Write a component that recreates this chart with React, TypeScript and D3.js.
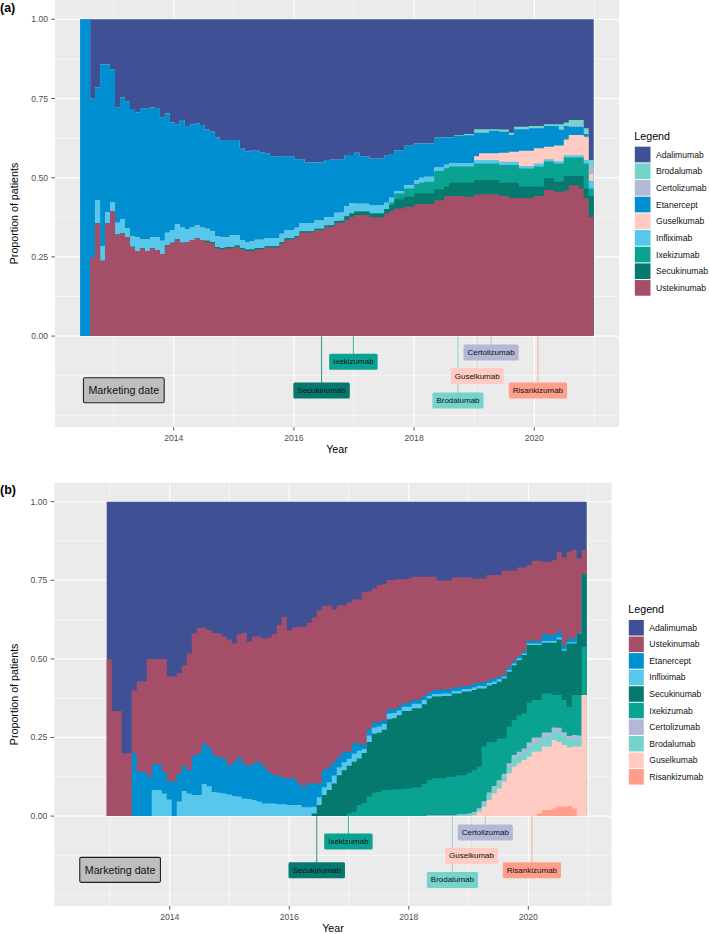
import React from "react";
import * as d3 from "d3";

const FONT = "'Liberation Sans', Arial, Helvetica, sans-serif";

const COLORS: Record<string, string> = {
  Adalimumab: "#3F5194",
  Ustekinumab: "#A54E67",
  Etanercept: "#008FD0",
  Infliximab: "#58C7EC",
  Secukinumab: "#06796F",
  Ixekizumab: "#0AA392",
  Certolizumab: "#B3B8D8",
  Brodalumab: "#74D3CA",
  Guselkumab: "#FFCBC2",
  Risankizumab: "#FF9F89",
};

// ---------- panel (a): monthly proportions, Jun 2012 - Dec 2020 ----------
const startA = 2012.443;
const endA = 2020.988;
const ustA = [
  0, 0, .248, .356, .238, .356, .395, .321, .324, .312,
  .282, .269, .277, .269, .277, .272, .259, .287, .295, .306,
  .295, .297, .303, .309, .303, .297, .293, .277, .274, .277,
  .277, .282, .274, .269, .269, .274, .274, .28, .28, .28,
  .293, .305, .305, .312, .327, .327, .327, .335, .335, .345,
  .345, .358, .358, .368, .377, .382, .382, .382, .375, .375,
  .375, .387, .396, .403, .403, .408, .408, .417, .417, .417,
  .417, .429, .429, .442, .442, .442, .442, .44, .44, .448,
  .448, .448, .448, .448, .442, .442, .436, .436, .436, .436,
  .436, .442, .442, .461, .461, .456, .456, .46, .476, .476,
  .466, .435, .377,
];
const secA = [
  0, 0, 0, 0, 0, 0, 0, 0, 0, 0,
  0, 0, 0, 0, 0, 0, 0, 0, 0, 0,
  0, 0, 0, 0, 0, .004, .004, .004, .004, .004,
  .004, .004, .004, .004, .004, .004, .004, .004, .004, .004,
  .004, .004, .004, .004, .004, .004, .004, .004, .004, .004,
  .005, .005, .006, .01, .01, .011, .011, .011, .012, .012,
  .012, .014, .018, .029, .029, .032, .032, .033, .033, .033,
  .033, .034, .034, .03, .042, .042, .042, .044, .044, .045,
  .045, .045, .045, .045, .042, .042, .048, .048, .036, .036,
  .036, .03, .03, .037, .037, .031, .031, .045, .029, .029,
  .039, .031, .065,
];
const ixeA = [
  0, 0, 0, 0, 0, 0, 0, 0, 0, 0,
  0, 0, 0, 0, 0, 0, 0, 0, 0, 0,
  0, 0, 0, 0, 0, 0, 0, 0, 0, 0,
  0, 0, 0, 0, 0, 0, 0, 0, 0, 0,
  0, 0, 0, 0, 0, 0, 0, 0, 0, 0,
  0, 0, 0, 0, 0, 0, 0, 0, 0, 0,
  0, 0, .008, .018, .018, .026, .026, .03, .034, .037,
  .037, .058, .058, .058, .051, .051, .051, .051, .051, .052,
  .052, .052, .052, .052, .056, .056, .056, .056, .057, .057,
  .057, .063, .063, .053, .053, .058, .058, .059, .059, .059,
  .059, .079, .024,
];
const infA = [
  0, 0, 0, .072, .046, .036, .027, .037, .045, .028,
  .034, .043, .028, .036, .035, .04, .042, .039, .04, .048,
  .048, .04, .04, .04, .04, .038, .034, .035, .034, .031,
  .037, .032, .025, .024, .026, .026, .026, .026, .026, .026,
  .026, .026, .026, .026, .026, .026, .026, .026, .026, .026,
  .026, .026, .026, .033, .033, .025, .025, .025, .025, .025,
  .025, .02, .015, .008, .008, .01, .01, .012, .016, .016,
  .016, .011, .011, .011, .01, .01, .01, .01, .01, .011,
  .011, .011, .011, .011, .01, .01, .01, .01, .008, .008,
  .008, .01, .01, .007, .007, .007, .007, .007, .007, .007,
  .007, .011, .024,
];
const gusA = [
  0, 0, 0, 0, 0, 0, 0, 0, 0, 0,
  0, 0, 0, 0, 0, 0, 0, 0, 0, 0,
  0, 0, 0, 0, 0, 0, 0, 0, 0, 0,
  0, 0, 0, 0, 0, 0, 0, 0, 0, 0,
  0, 0, 0, 0, 0, 0, 0, 0, 0, 0,
  0, 0, 0, 0, 0, 0, 0, 0, 0, 0,
  0, 0, 0, 0, 0, 0, 0, 0, 0, 0,
  0, 0, 0, 0, 0, 0, 0, 0, 0, .012,
  .021, .021, .021, .021, .029, .029, .032, .032, .048, .048,
  .048, .048, .048, .04, .04, .05, .05, .05, .064, .064,
  .064, .073, .022,
];
const etaA = [
  1, 1, .501, .357, .573, .465, .42, .363, .384, .40,
  .401, .394, .413, .413, .41, .408, .39, .377, .339, .315,
  .339, .326, .325, .323, .323, .312, .314, .311, .307, .307,
  .301, .301, .29, .286, .286, .281, .276, .267, .258, .256,
  .243, .231, .231, .216, .201, .191, .191, .183, .183, .181,
  .181, .168, .168, .161, .152, .161, .15, .15, .148, .148,
  .148, .148, .138, .129, .129, .125, .125, .116, .108, .105,
  .105, .095, .095, .086, .082, .087, .087, .089, .089, .074,
  .065, .065, .071, .071, .066, .066, .053, .071, .068, .068,
  .071, .063, .063, .065, .065, .061, .049, .042, .026, .026,
  .026, .009, 0,
];
const cerA = [
  0, 0, 0, 0, 0, 0, 0, 0, 0, 0,
  0, 0, 0, 0, 0, 0, 0, 0, 0, 0,
  0, 0, 0, 0, 0, 0, 0, 0, 0, 0,
  0, 0, 0, 0, 0, 0, 0, 0, 0, 0,
  0, 0, 0, 0, 0, 0, 0, 0, 0, 0,
  0, 0, 0, 0, 0, 0, 0, 0, 0, 0,
  0, 0, 0, 0, 0, 0, 0, 0, 0, 0,
  0, 0, 0, 0, 0, 0, 0, 0, 0, 0,
  0, 0, 0, 0, 0, 0, 0, 0, 0, 0,
  0, 0, 0, 0, 0, 0, 0, 0, .003, .003,
  .003, .005, .023,
];
const broA = [
  0, 0, 0, 0, 0, 0, 0, 0, 0, 0,
  0, 0, 0, 0, 0, 0, 0, 0, 0, 0,
  0, 0, 0, 0, 0, 0, 0, 0, 0, 0,
  0, 0, 0, 0, 0, 0, 0, 0, 0, 0,
  0, 0, 0, 0, 0, 0, 0, 0, 0, 0,
  0, 0, 0, 0, 0, 0, 0, 0, 0, 0,
  0, 0, 0, 0, 0, 0, 0, 0, 0, 0,
  0, 0, 0, 0, 0, .002, .002, .004, .004, .011,
  .011, .011, .005, .005, .007, .007, .007, .008, .008, .008,
  .007, .007, .007, .006, .006, .006, .018, .011, .018, .018,
  .018, .013, .021,
];
const legendA = [
  "Adalimumab", "Brodalumab", "Certolizumab", "Etanercept", "Guselkumab",
  "Infliximab", "Ixekizumab", "Secukinumab", "Ustekinumab",
];

// ---------- panel (b): monthly proportions, Jan 2013 - Dec 2020 ----------
const startB = 2012.946;
const endB = 2020.977;
const ustB = [
  .5, .334, .334, .2, .2, .2, .287, .287, .375, .335,
  .335, .359, .334, .334, .318, .321, .371, .389, .399, .368,
  .375, .389, .394, .388, .4, .378, .391, .415, .396, .403,
  .398, .408, .428, .449, .478, .514, .47, .48, .498, .509,
  .511, .528, .551, .522, .516, .484, .481, .465, .474, .458,
  .458, .487, .438, .427, .436, .433, .412, .411, .405, .393,
  .396, .392, .392, .379, .369, .36, .348, .346, .346, .35,
  .35, .345, .345, .336, .331, .331, .334, .329, .324, .331,
  .305, .289, .282, .268, .24, .254, .254, .23, .233, .238,
  .255, .279, .276, .281, .237, .077,
];
const etaB = [
  0, 0, 0, 0, 0, .2, .141, .141, .125, .082,
  .082, .069, .058, .111, .09, .079, .074, .125, .133, .129,
  .122, .117, .113, .111, .093, .107, .125, .112, .105, .117,
  .127, .117, .1, .09, .092, .082, .085, .085, .069, .065,
  .076, .074, .044, .054, .047, .044, .034, .034, .023, .033,
  .023, .013, .02, .015, .014, .012, .013, .012, .012, .012,
  .012, .012, .012, .013, .01, .013, .013, .013, .013, .011,
  .011, .01, .01, .011, .011, .011, .01, .01, .008, .006,
  .01, .006, .007, .006, .009, .009, .009, .022, .019, .019,
  .018, .013, .012, .012, .004, 0,
];
const infB = [
  0, 0, 0, 0, 0, 0, 0, 0, 0, .083,
  .083, .072, .053, 0, .046, .08, .072, .067, .067, .102,
  .095, .077, .074, .072, .069, .064, .062, .056, .054, .051,
  .046, .04, .04, .04, .038, .038, .035, .035, .035, .028,
  .028, .022, .025, .025, .025, .025, .025, .025, .022, .025,
  .025, .012, .02, .02, .02, .018, .018, .017, .015, .014,
  .014, .014, .014, .013, .008, .008, .008, .008, .008, .008,
  .008, .008, .008, .008, .008, .008, .008, .008, .008, .005,
  .006, .005, .006, .005, .005, .005, .005, .006, .006, .006,
  .006, .005, .004, .004, 0, 0,
];
const secB = [
  0, 0, 0, 0, 0, 0, 0, 0, 0, 0,
  0, 0, 0, 0, 0, 0, 0, 0, 0, 0,
  0, 0, 0, 0, 0, 0, 0, 0, 0, 0,
  0, 0, 0, 0, 0, 0, 0, 0, 0, 0,
  0, .008, .035, .067, .083, .104, .13, .146, .152, .159,
  .148, .159, .174, .188, .188, .192, .225, .226, .236, .246,
  .246, .252, .252, .254, .259, .26, .26, .262, .257, .265,
  .26, .266, .258, .255, .249, .185, .179, .184, .18, .191,
  .175, .175, .175, .185, .183, .175, .175, .161, .161, .166,
  .177, .157, .201, .164, .194, .23,
];
const ixeB = [
  0, 0, 0, 0, 0, 0, 0, 0, 0, 0,
  0, 0, 0, 0, 0, 0, 0, 0, 0, 0,
  0, 0, 0, 0, 0, 0, 0, 0, 0, 0,
  0, 0, 0, 0, 0, 0, 0, 0, 0, 0,
  0, 0, 0, 0, 0, 0, 0, 0, .008, .014,
  .035, .042, .062, .074, .077, .083, .083, .085, .085, .088,
  .088, .091, .091, .102, .112, .117, .117, .117, .122, .122,
  .124, .124, .13, .133, .132, .174, .161, .14, .133, .112,
  .116, .111, .116, .112, .127, .119, .119, .124, .124, .103,
  .104, .102, .093, .127, .129, .154,
];
const cerB = [
  0, 0, 0, 0, 0, 0, 0, 0, 0, 0,
  0, 0, 0, 0, 0, 0, 0, 0, 0, 0,
  0, 0, 0, 0, 0, 0, 0, 0, 0, 0,
  0, 0, 0, 0, 0, 0, 0, 0, 0, 0,
  0, 0, 0, 0, 0, 0, 0, 0, 0, 0,
  0, 0, 0, 0, 0, 0, 0, 0, 0, 0,
  0, 0, 0, 0, .003, .003, .003, .003, .003, .003,
  .003, .003, .004, .005, .006, .007, .008, .008, .008, .01,
  .012, .012, .012, .012, .015, .015, .015, .015, .015, .012,
  .015, .013, .012, .012, .01, 0,
];
const broB = [
  0, 0, 0, 0, 0, 0, 0, 0, 0, 0,
  0, 0, 0, 0, 0, 0, 0, 0, 0, 0,
  0, 0, 0, 0, 0, 0, 0, 0, 0, 0,
  0, 0, 0, 0, 0, 0, 0, 0, 0, 0,
  0, 0, 0, 0, 0, 0, 0, 0, 0, 0,
  0, 0, 0, 0, 0, 0, 0, 0, 0, 0,
  0, 0, 0, 0, 0, 0, 0, 0, 0, 0,
  .003, .003, .004, .005, .005, .01, .016, .016, .018, .016,
  .02, .025, .025, .025, .03, .03, .03, .03, .03, .028,
  .03, .028, .025, .025, .025, 0,
];
const gusB = [
  0, 0, 0, 0, 0, 0, 0, 0, 0, 0,
  0, 0, 0, 0, 0, 0, 0, 0, 0, 0,
  0, 0, 0, 0, 0, 0, 0, 0, 0, 0,
  0, 0, 0, 0, 0, 0, 0, 0, 0, 0,
  0, 0, 0, 0, 0, 0, 0, 0, 0, 0,
  0, 0, 0, 0, 0, 0, 0, 0, 0, 0,
  0, 0, 0, 0, 0, 0, 0, 0, 0, 0,
  0, 0, 0, .003, .014, .03, .051, .072, .088, .109,
  .136, .157, .168, .178, .189, .205, .197, .202, .202, .218,
  .206, .196, .186, .197, .221, .385,
];
const risB = [
  0, 0, 0, 0, 0, 0, 0, 0, 0, 0,
  0, 0, 0, 0, 0, 0, 0, 0, 0, 0,
  0, 0, 0, 0, 0, 0, 0, 0, 0, 0,
  0, 0, 0, 0, 0, 0, 0, 0, 0, 0,
  0, 0, 0, 0, 0, 0, 0, 0, 0, 0,
  0, 0, 0, 0, 0, 0, 0, 0, 0, 0,
  0, 0, 0, 0, 0, 0, 0, 0, 0, 0,
  0, 0, 0, 0, 0, 0, 0, 0, 0, 0,
  0, 0, 0, 0, 0, 0, .008, .019, .019, .024,
  .03, .03, .032, .024, 0, 0,
];
const legendB = [
  "Adalimumab", "Ustekinumab", "Etanercept", "Infliximab", "Secukinumab",
  "Ixekizumab", "Certolizumab", "Brodalumab", "Guselkumab", "Risankizumab",
];

// marketing dates (same in both panels)
const markNames = ["Secukinumab", "Ixekizumab", "Brodalumab", "Guselkumab", "Certolizumab", "Risankizumab"];
const markDates = [2016.46, 2016.99, 2018.73, 2019.05, 2019.28, 2020.06];
const markLevels = [-0.172, -0.081, -0.203, -0.126, -0.052, -0.172];
const markTitleDate = 2013.17;
const markTitleLevel = -0.171;

const xMajor = [2014, 2016, 2018, 2020];
const xMinor = [2013, 2015, 2017, 2019, 2021];
const yMajor = [0, 0.25, 0.5, 0.75, 1];
const yMinor = [-0.25, -0.125, 0.125, 0.375, 0.625, 0.875];

let measureCtx: CanvasRenderingContext2D | null = null;
function textWidth(s: string, size: number) {
  if (!measureCtx) measureCtx = document.createElement("canvas").getContext("2d");
  if (!measureCtx) return s.length * size * 0.5;
  measureCtx.font = `${size}px ${FONT}`;
  return measureCtx.measureText(s).width;
}

type Props = {
  tag: string;
  tagY: number;
  start: number;
  end: number;
  series: Record<string, number[]>;
  legendKeys: string[];
  xDom: [number, number];
  xRng: [number, number];
  yDom: [number, number];
  yRng: [number, number];
  legendX: number;
  legendTitleY: number;
  legendTop: number;
  legendStep: number;
  keySize: number;
};

function Panel(p: Props) {
  const x = d3.scaleLinear().domain(p.xDom).range(p.xRng);
  const y = d3.scaleLinear().domain(p.yDom).range(p.yRng);
  // ggplot stacks the first factor level on top
  const stackKeys = p.legendKeys.slice().reverse();
  const others = stackKeys.filter((k) => k !== "Adalimumab");
  const n = p.series[others[0]].length;
  const step = (p.end - p.start) / n;

  const rows = d3.range(n).map((i) => {
    const r: Record<string, number> = {};
    others.forEach((k) => (r[k] = p.series[k][i]));
    // adalimumab is the remaining share up to 1
    r.Adalimumab = Math.max(0, 1 - d3.sum(others, (k) => r[k]));
    return r;
  });
  const layers = d3.stack<Record<string, number>>().keys(stackKeys)(rows);

  const area = d3
    .area<{ t: number; v: number }>()
    .x((d) => x(d.t))
    .y0(y(0))
    .y1((d) => y(d.v))
    .curve(d3.curveStepAfter);

  const [left, right] = p.xRng;
  const [bottom, top] = p.yRng;
  const cx = (left + right) / 2;
  const cy = (top + bottom) / 2;
  const labelSize = 8;

  return (
    <g>
      <text x={0} y={p.tagY} fontSize={12.5} fontWeight="bold" fill="#000">{p.tag}</text>
      <rect x={left} y={top} width={right - left} height={bottom - top} fill="#EBEBEB" />
      {yMinor.map((v) => (
        <line key={"ym" + v} x1={left} x2={right} y1={y(v)} y2={y(v)} stroke="#fff" strokeWidth={0.55} />
      ))}
      {xMinor.map((v) => (
        <line key={"xm" + v} x1={x(v)} x2={x(v)} y1={top} y2={bottom} stroke="#fff" strokeWidth={0.55} />
      ))}
      {yMajor.map((v) => (
        <line key={"yM" + v} x1={left} x2={right} y1={y(v)} y2={y(v)} stroke="#fff" strokeWidth={1.1} />
      ))}
      {xMajor.map((v) => (
        <line key={"xM" + v} x1={x(v)} x2={x(v)} y1={top} y2={bottom} stroke="#fff" strokeWidth={1.1} />
      ))}

      {/* draw top layer first, each from the baseline up to its cumulative top */}
      {layers
        .slice()
        .reverse()
        .map((layer) => {
          const pts = layer.map((d, i) => ({ t: p.start + i * step, v: d[1] }));
          pts.push({ t: p.end, v: layer[n - 1][1] });
          return <path key={layer.key} d={area(pts) || ""} fill={COLORS[layer.key]} />;
        })}

      {markNames.map((name, i) => (
        <line
          key={"ml" + name}
          x1={x(markDates[i])}
          x2={x(markDates[i])}
          y1={y(0)}
          y2={y(markLevels[i])}
          stroke={COLORS[name]}
          strokeWidth={0.8}
        />
      ))}
      {markNames.map((name, i) => {
        const w = textWidth(name, labelSize) + 8;
        const h = 16;
        const mx = x(markDates[i]);
        const my = y(markLevels[i]);
        return (
          <g key={"mb" + name}>
            <rect x={mx - w / 2} y={my - h / 2} width={w} height={h} rx={1.5} fill={COLORS[name]} />
            <text x={mx} y={my} fontSize={labelSize} textAnchor="middle" dominantBaseline="central" fill="#111">
              {name}
            </text>
          </g>
        );
      })}
      {(() => {
        const label = "Marketing date";
        const w = textWidth(label, 10.7) + 10;
        const h = 25;
        const mx = x(markTitleDate);
        const my = y(markTitleLevel);
        return (
          <g>
            <rect x={mx - w / 2} y={my - h / 2} width={w} height={h} rx={1.5} fill="#BEBEBE" stroke="#222" strokeWidth={1.1} />
            <text x={mx} y={my} fontSize={10.7} textAnchor="middle" dominantBaseline="central" fill="#111">
              {label}
            </text>
          </g>
        );
      })()}

      {/* axes */}
      {yMajor.map((v) => (
        <g key={"yt" + v}>
          <line x1={left - 3.7} x2={left} y1={y(v)} y2={y(v)} stroke="#333" strokeWidth={0.8} />
          <text x={left - 7} y={y(v)} fontSize={8.6} textAnchor="end" dominantBaseline="central" fill="#4D4D4D">
            {d3.format(".2f")(v)}
          </text>
        </g>
      ))}
      {xMajor.map((v) => (
        <g key={"xt" + v}>
          <line x1={x(v)} x2={x(v)} y1={bottom} y2={bottom + 3.7} stroke="#333" strokeWidth={0.8} />
          <text x={x(v)} y={bottom + 10.7} fontSize={8.6} textAnchor="middle" dominantBaseline="central" fill="#4D4D4D">
            {v}
          </text>
        </g>
      ))}
      <text x={cx} y={bottom + 22.3} fontSize={10.7} textAnchor="middle" dominantBaseline="central" fill="#000">
        Year
      </text>
      <text
        transform={`translate(14.3,${cy}) rotate(-90)`}
        fontSize={10.7}
        textAnchor="middle"
        dominantBaseline="central"
        fill="#000"
      >
        Proportion of patients
      </text>

      {/* legend */}
      <text x={p.legendX} y={p.legendTitleY} fontSize={10.7} dominantBaseline="central" fill="#000">
        Legend
      </text>
      {p.legendKeys.map((k, i) => {
        const ky = p.legendTop + i * p.legendStep;
        return (
          <g key={"lg" + k}>
            <rect x={p.legendX + 0.5} y={ky} width={p.keySize} height={p.legendStep - 1} fill={COLORS[k]} />
            <text
              x={p.legendX + p.keySize + 6}
              y={ky + (p.legendStep - 1) / 2}
              fontSize={8.6}
              dominantBaseline="central"
              fill="#111"
            >
              {k}
            </text>
          </g>
        );
      })}
    </g>
  );
}

export default function App() {
  const seriesA: Record<string, number[]> = {
    Ustekinumab: ustA,
    Secukinumab: secA,
    Ixekizumab: ixeA,
    Infliximab: infA,
    Guselkumab: gusA,
    Etanercept: etaA,
    Certolizumab: cerA,
    Brodalumab: broA,
  };
  const seriesB: Record<string, number[]> = {
    Risankizumab: risB,
    Guselkumab: gusB,
    Brodalumab: broB,
    Certolizumab: cerB,
    Ixekizumab: ixeB,
    Secukinumab: secB,
    Infliximab: infB,
    Etanercept: etaB,
    Ustekinumab: ustB,
  };
  return (
    <svg
      width={709}
      height={934}
      style={{ position: "absolute", left: 0, top: 0, background: "#fff" }}
      fontFamily={FONT}
    >
      <rect width={709} height={934} fill="#fff" />
      <Panel
        tag="(a)"
        tagY={12}
        start={startA}
        end={endA}
        series={seriesA}
        legendKeys={legendA}
        xDom={[2012.025, 2021.409]}
        xRng={[55, 619]}
        yDom={[-0.287, 1.061]}
        yRng={[427, 0]}
        legendX={634.3}
        legendTitleY={136}
        legendTop={146.7}
        legendStep={16.67}
        keySize={15.7}
      />
      <Panel
        tag="(b)"
        tagY={494}
        start={startB}
        end={endB}
        series={seriesB}
        legendKeys={legendB}
        xDom={[2012.069, 2021.395]}
        xRng={[54.3, 611.7]}
        yDom={[-0.286, 1.0604]}
        yRng={[906, 482.7]}
        legendX={628.3}
        legendTitleY={609}
        legendTop={620}
        legendStep={16.56}
        keySize={15}
      />
    </svg>
  );
}
